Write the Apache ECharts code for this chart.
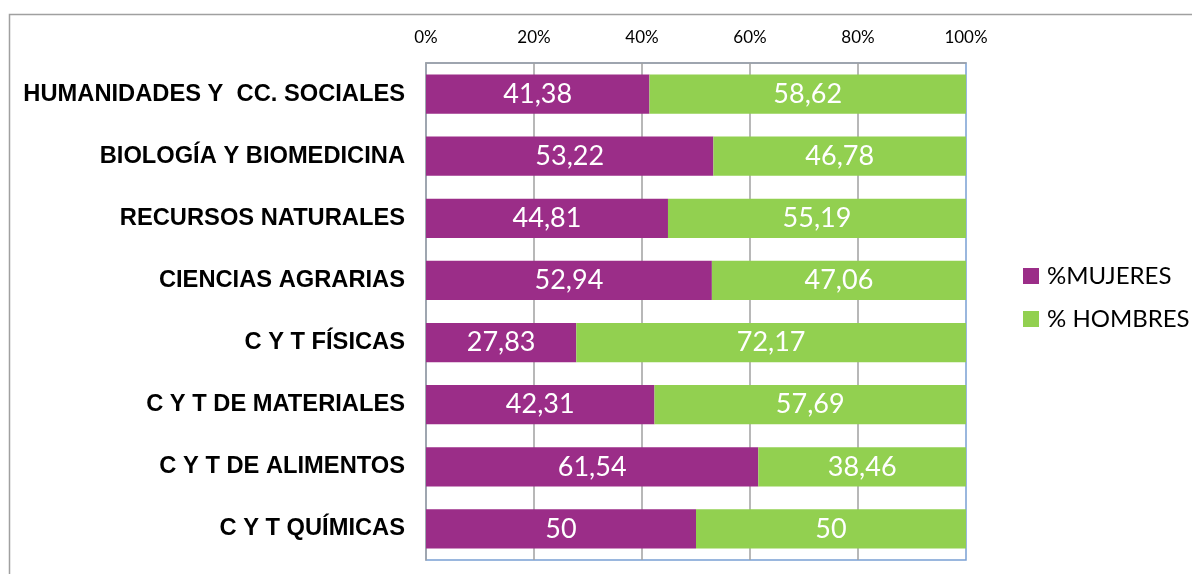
<!DOCTYPE html>
<html>
<head>
<meta charset="utf-8">
<script src="https://cdn.jsdelivr.net/npm/echarts@6/dist/echarts.min.js"></script>
<style>
  html, body { margin: 0; padding: 0; background: #fff; }
  #chart { width: 1192px; height: 574px; }
</style>
</head>
<body>
<div id="chart"></div>
<script>
  // categorias (de arriba a abajo)
  const categories = [
    'HUMANIDADES Y  CC. SOCIALES',
    'BIOLOGÍA Y BIOMEDICINA',
    'RECURSOS NATURALES',
    'CIENCIAS AGRARIAS',
    'C Y T FÍSICAS',
    'C Y T DE MATERIALES',
    'C Y T DE ALIMENTOS',
    'C Y T QUÍMICAS'
  ];
  const mujeres = [41.38, 53.22, 44.81, 52.94, 27.83, 42.31, 61.54, 50];
  const hombres = [58.62, 46.78, 55.19, 47.06, 72.17, 57.69, 38.46, 50];
  const tickLabels = ['0%', '20%', '40%', '60%', '80%', '100%'];

  const chart = echarts.init(document.getElementById('chart'));

  // etiqueta con coma decimal
  const labelFmt = (p) => String(p.value).replace('.', ',');

  const barLabel = {
    show: true,
    position: 'inside',
    color: '#fff',
    fontFamily: 'Lato',
    fontSize: 27,
    formatter: labelFmt
  };

  const option = {
    backgroundColor: '#fff',
    animation: false,
    graphic: [{
      // marco exterior del grafico
      type: 'rect',
      silent: true,
      shape: { x: 9.5, y: 14.5, width: 1400, height: 800 },
      style: { fill: 'none', stroke: '#a0a0a0', lineWidth: 1.5 }
    }],
    grid: {
      left: 426,
      right: 226,
      top: 63,
      bottom: 14,
      show: true,
      borderColor: '#7aa0d4',
      borderWidth: 1.5
    },
    legend: {
      orient: 'vertical',
      left: 1023,
      top: 264,
      padding: 0,
      itemWidth: 16,
      itemHeight: 16,
      itemGap: 19,
      icon: 'rect',
      textStyle: { fontFamily: 'Lato', fontSize: 24, color: '#000', padding: [0, 0, 0, 3] },
      data: ['%MUJERES', '% HOMBRES']
    },
    xAxis: {
      type: 'value',
      position: 'top',
      min: 0,
      max: 100,
      interval: 20,
      axisLine: { show: true, lineStyle: { color: '#a0a0a0', width: 1.5 } },
      axisTick: { show: false },
      axisLabel: {
        margin: 17,
        color: '#000',
        fontFamily: 'Lato',
        fontSize: 17,
        formatter: (v) => tickLabels[v / 20]
      },
      splitLine: {
        show: true,
        showMinLine: false,
        showMaxLine: false,
        lineStyle: { color: '#a0a0a0', width: 1.5 }
      }
    },
    yAxis: {
      type: 'category',
      inverse: true,
      data: categories,
      axisLine: { show: true, lineStyle: { color: '#a0a0a0', width: 1.5 } },
      axisTick: { show: false },
      axisLabel: {
        margin: 21,
        color: '#000',
        fontFamily: 'Liberation Sans',
        fontWeight: 'bold',
        fontSize: 23.7
      }
    },
    series: [
      {
        name: '%MUJERES',
        type: 'bar',
        stack: 'total',
        barCategoryGap: '37%',
        itemStyle: { color: '#9b2d88' },
        label: barLabel,
        data: mujeres
      },
      {
        name: '% HOMBRES',
        type: 'bar',
        stack: 'total',
        barCategoryGap: '37%',
        itemStyle: { color: '#92d050' },
        label: barLabel,
        data: hombres
      }
    ]
  };

  chart.setOption(option);
</script>
</body>
</html>
